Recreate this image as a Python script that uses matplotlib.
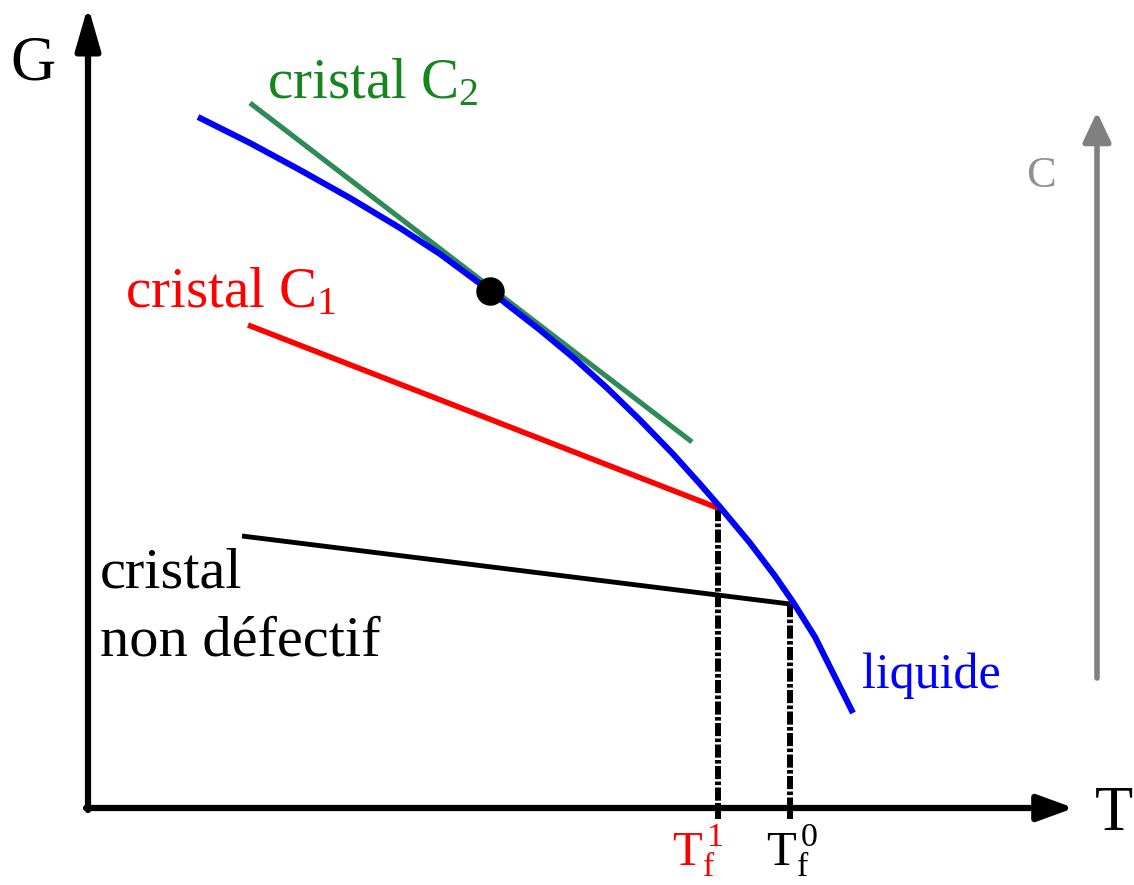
import matplotlib
matplotlib.use("Agg")
import matplotlib.pyplot as plt

plt.rcParams['font.family'] = ['Liberation Serif', 'DejaVu Serif']
plt.rcParams['mathtext.fontset'] = 'custom'
plt.rcParams['mathtext.rm'] = 'Liberation Serif'
plt.rcParams['mathtext.it'] = 'Liberation Serif'

# Schematic data (figure pixel frame: T to the right, G upward = smaller y)
liquid_T = [198, 250, 300, 350, 400, 440, 490, 540, 575, 607, 640, 673, 700, 720, 750, 775, 793, 815, 835, 853]
liquid_G = [117, 143, 170, 198, 228, 254, 291, 330, 359, 388, 420, 454, 484, 507, 543, 576, 602, 637, 677, 713]

c2_T = [250, 692]
c2_G = [103, 442]

c1_T = [248, 718]
c1_G = [325, 508]

perfect_T = [242, 790]
perfect_G = [536, 604]

tf1 = 718
tf0 = 790
dot_T, dot_G = 490, 291

fig = plt.figure(figsize=(11.34, 8.85), dpi=100)
ax = fig.add_axes([0, 0, 1, 1])
ax.set_xlim(0, 1134)
ax.set_ylim(885, 0)
ax.axis('off')

# axes arrows
ax.annotate('', xy=(88, 6), xytext=(88, 810),
            arrowprops=dict(arrowstyle='-|>,head_length=2.6,head_width=0.75', lw=4.5, color='black',
                            shrinkA=0, shrinkB=0))
ax.annotate('', xy=(1074, 808), xytext=(86, 808),
            arrowprops=dict(arrowstyle='-|>,head_length=2.2,head_width=0.8', lw=4.5, color='black',
                            shrinkA=0, shrinkB=0))
# C arrow
ax.annotate('', xy=(1097, 112), xytext=(1097, 678),
            arrowprops=dict(arrowstyle='-|>,head_length=1.8,head_width=0.85', lw=4, color='#808080',
                            shrinkA=0, shrinkB=0))

# curves
ax.plot(c2_T, c2_G, color='#2e8b57', lw=3.7, solid_capstyle='butt', zorder=3)
ax.plot(liquid_T, liquid_G, color='#0000ff', lw=4.4, solid_capstyle='butt', zorder=4)
ax.plot(c1_T, c1_G, color='#ff0000', lw=4, solid_capstyle='butt', zorder=3)
ax.plot(perfect_T, perfect_G, color='black', lw=3.5, solid_capstyle='butt', zorder=3)

# dash-dot vertical lines
for x, ytop in [(tf1, c1_G[1]), (tf0, perfect_G[1])]:
    ax.plot([x, x], [ytop, 808], color='black', lw=4.3, linestyle=(0, (2.2, 0.4, 0.6, 0.4)), zorder=2)
    ax.plot([x, x], [808, 816], color='black', lw=4.3, zorder=2)

ax.plot([dot_T], [dot_G], 'o', color='black', ms=19.5, zorder=5)

# labels
ax.text(33, 79, 'G', fontsize=45, ha='center', va='baseline')
ax.text(1114, 830, 'T', fontsize=45, ha='center', va='baseline')
ax.text(267, 98, r'cristal C$_\mathrm{2}$', fontsize=41, color='#17851f', ha='left', va='baseline')
ax.text(125, 307, r'cristal C$_\mathrm{1}$', fontsize=41, color='#ff0000', ha='left', va='baseline')
ax.text(100, 588, 'cristal', fontsize=42, color='black', ha='left', va='baseline')
ax.text(100, 655, 'non défectif', fontsize=42, color='black', ha='left', va='baseline')
ax.text(862, 688, 'liquide', fontsize=36, color='#0000ff', ha='left', va='baseline')
ax.text(1041, 187, 'C', fontsize=32, color='#909090', ha='center', va='baseline')

ax.text(672, 866, r'T$_\mathrm{f}^{\,\mathrm{1}}$', fontsize=35, color='#ff0000', ha='left', va='baseline')
ax.text(766, 866, r'T$_\mathrm{f}^{\,\mathrm{0}}$', fontsize=35, color='black', ha='left', va='baseline')

fig.savefig('out.png', dpi=100)
